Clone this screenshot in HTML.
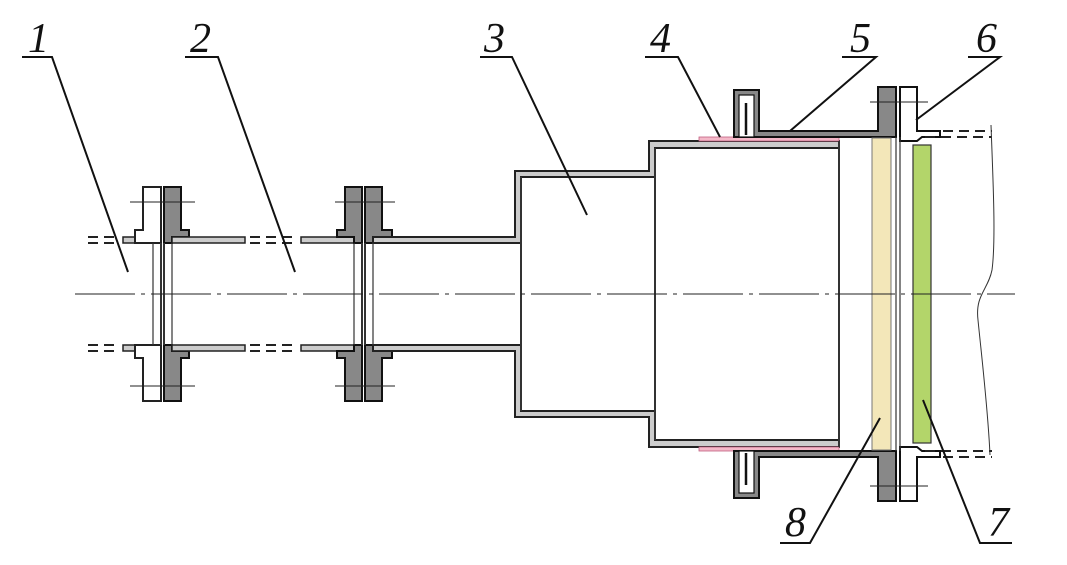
<!DOCTYPE html>
<html><head><meta charset="utf-8"><style>
html,body{margin:0;padding:0;background:#fff;}
svg{display:block}
text{font-family:"Liberation Serif",serif;font-style:italic;font-size:42px;fill:#111}
</style></head><body>
<svg width="1067" height="565" viewBox="0 0 1067 565" xmlns="http://www.w3.org/2000/svg">
<defs>
<g id="half">
 <line x1="88" y1="237" x2="120" y2="237" stroke="#222" stroke-width="2" stroke-dasharray="10,6"/>
 <line x1="88" y1="243" x2="120" y2="243" stroke="#222" stroke-width="2" stroke-dasharray="10,6"/>
 <rect x="123" y="237" width="30" height="6" fill="#ccc" stroke="#222" stroke-width="1.5"/>
 <path d="M143,187 H161 V243 H135 V237 H135 V230 H143 Z" fill="#fff" stroke="#222" stroke-width="2"/>
 <path d="M164,187 H181 V230 H189 V237 H172 V243 H164 Z" fill="#888" stroke="#111" stroke-width="2"/>
 <rect x="172" y="237" width="73" height="6" fill="#ccc" stroke="#222" stroke-width="1.5"/>
 <line x1="250" y1="237" x2="298" y2="237" stroke="#222" stroke-width="2" stroke-dasharray="10,6"/>
 <line x1="250" y1="243" x2="298" y2="243" stroke="#222" stroke-width="2" stroke-dasharray="10,6"/>
 <rect x="301" y="237" width="53" height="6" fill="#ccc" stroke="#222" stroke-width="1.5"/>
 <path d="M345,187 H362 V243 H354 V237 H337 V230 H345 Z" fill="#888" stroke="#111" stroke-width="2"/>
 <path d="M365,187 H382 V230 H392 V237 H373 V243 H365 Z" fill="#888" stroke="#111" stroke-width="2"/>
 <line x1="130" y1="202" x2="195" y2="202" stroke="#222" stroke-width="1"/>
 <line x1="335" y1="202" x2="395" y2="202" stroke="#222" stroke-width="1"/>
 <path d="M373,237 H515 V171 H649 V141 H839 V148 H655 V177 H521 V243 H373 Z" fill="#ccc" stroke="#222" stroke-width="2"/>
 <rect x="699" y="137" width="140" height="4" fill="#f4b8c8" stroke="#c06080" stroke-width="0.8"/>
 <path d="M734,137 V90 H759 V131 H878 V87 H896 V137 Z" fill="#888" stroke="#111" stroke-width="2"/>
 <rect x="739" y="95" width="15" height="42" fill="#fff" stroke="#111" stroke-width="1.2"/>
 <line x1="746" y1="103" x2="746" y2="135" stroke="#111" stroke-width="2.5"/>
 <path d="M900,87 H917 V131 H940 V137 H922 L917,141 H900 Z" fill="#fff" stroke="#111" stroke-width="2"/>
 <line x1="943" y1="131" x2="992" y2="131" stroke="#222" stroke-width="2" stroke-dasharray="10,6"/>
 <line x1="925" y1="137" x2="992" y2="137" stroke="#222" stroke-width="2" stroke-dasharray="10,6"/>
 <line x1="870" y1="102" x2="928" y2="102" stroke="#222" stroke-width="1"/>
</g>
</defs>
<use href="#half"/>
<use href="#half" transform="translate(0,588) scale(1,-1)"/>
<g stroke="#333" stroke-width="1.2">
 <line x1="153" y1="243" x2="153" y2="345"/>
 <line x1="172" y1="243" x2="172" y2="345"/>
 <line x1="354" y1="243" x2="354" y2="345"/>
 <line x1="373" y1="243" x2="373" y2="345"/>
 <line x1="161" y1="243" x2="161" y2="345" stroke-width="2"/>
 <line x1="164" y1="243" x2="164" y2="345" stroke-width="2"/>
 <line x1="362" y1="243" x2="362" y2="345" stroke-width="2"/>
 <line x1="365" y1="243" x2="365" y2="345" stroke-width="2"/>
 <line x1="521" y1="177" x2="521" y2="411" stroke-width="2"/>
 <line x1="655" y1="148" x2="655" y2="440" stroke-width="2"/>
 <line x1="839" y1="141" x2="839" y2="447" stroke-width="2"/>
 <line x1="896" y1="137" x2="896" y2="451"/>
 <line x1="900" y1="137" x2="900" y2="451"/>
</g>
<rect x="872" y="138" width="19" height="312" fill="#f3e7b9" stroke="#777" stroke-width="1"/>
<rect x="913" y="145" width="18" height="298" fill="#b3d56a" stroke="#333" stroke-width="1.2"/>
<line x1="75" y1="294" x2="1015" y2="294" stroke="#222" stroke-width="1" stroke-dasharray="60,6,4,6"/>
<path d="M991,125 C993,180 996,240 992,270 C988,290 975,295 978,320 C982,360 988,410 990,455" fill="none" stroke="#333" stroke-width="1"/>
<g stroke="#111" stroke-width="2" fill="none">
 <path d="M22,57 H52 L128,272"/>
 <path d="M185,57 H218 L295,272"/>
 <path d="M480,57 H512 L587,215"/>
 <path d="M645,57 H678 L720,137"/>
 <path d="M842,57 H876 L790,131"/>
 <path d="M968,57 H1000 L916,120"/>
 <path d="M780,543 H810 L880,418"/>
 <path d="M1012,543 H980 L923,400"/>
</g>
<text x="28" y="52">1</text>
<text x="190" y="52">2</text>
<text x="484" y="52">3</text>
<text x="650" y="52">4</text>
<text x="850" y="52">5</text>
<text x="976" y="52">6</text>
<text x="785" y="536">8</text>
<text x="988" y="536">7</text>
</svg>
</body></html>
